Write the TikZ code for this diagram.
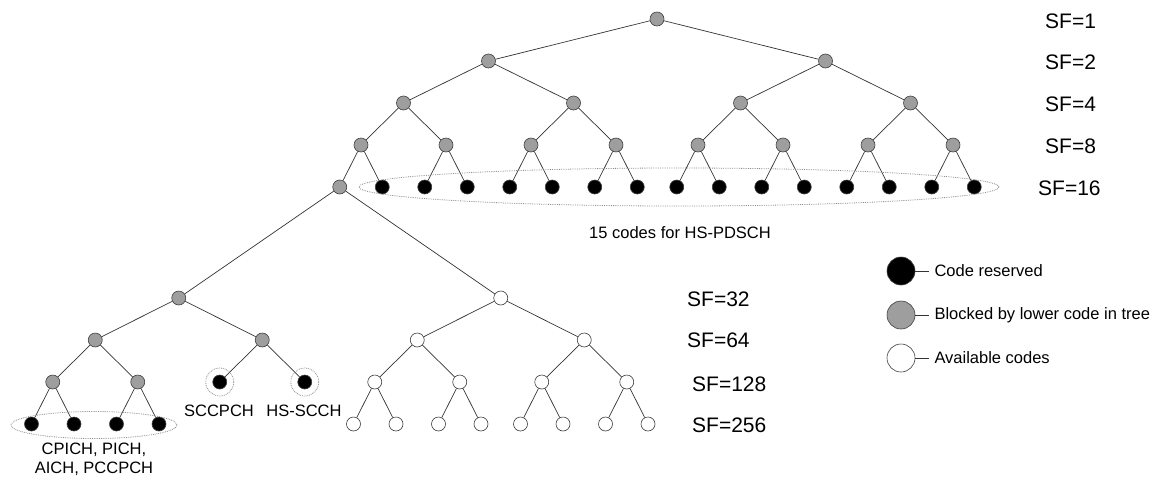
\documentclass[tikz,border=0pt]{standalone}
\usepackage{fontspec}
\setmainfont{Liberation Sans}
\usetikzlibrary{positioning}

\begin{document}
\begin{tikzpicture}[x = 1pt, y = -1pt, level distance = 42pt,
    level 1/.style = {sibling distance = 337pt},
    level 2/.style = {sibling distance = 170pt},
    level 3/.style = {sibling distance = 85pt},
    level 4/.style = {sibling distance = 42.5pt},
    level 5/.style = {level distance = 111pt, sibling distance = 322pt},
    level 6/.style = {level distance = 42pt, sibling distance = 167pt},
    level 7/.style = {sibling distance = 85pt},
    level 8/.style = {sibling distance = 42.5pt},
    edge from parent/.style = {draw, black!80, line width = 0.7pt},
    cnode/.style = {shape = circle, draw = black!75, line width = 0.6pt, minimum size = 14pt, inner sep = 0pt},
    reserved/.style = {cnode, fill = black},
    blocked/.style = {cnode, fill = black!38},
    free/.style = {cnode, fill = white},
    halo/.style = {draw = black!45, densely dotted, line width = 0.8pt},
    sflabel/.style = {anchor = west, inner sep = 0pt, font = \fontsize{21}{25}\selectfont},
    txt/.style = {inner sep = 0pt, font = \fontsize{16.5}{19}\selectfont},
    legtxt/.style = {inner sep = 5pt, font = \fontsize{16.5}{19}\selectfont}]
    \useasboundingbox (0,0) rectangle (1163,480);

    \node[blocked] (r) at (657,19) {}
        child{ node[blocked] {}
            child{ node[blocked] {}
                child{ node[blocked] {}
                    child{ node[blocked] {}
                        child{ node[blocked] {}
                            child{ node[blocked] {}
                                child{ node[blocked] {}
                                    child{ node[reserved] {} }
                                    child{ node[reserved] {} }}
                                child{ node[blocked] {}
                                    child{ node[reserved] {} }
                                    child{ node[reserved] {} }}}
                            child{ node[blocked] {}
                                child{ node[reserved] {} }
                                child{ node[reserved] {} }}}
                        child{ node[free] {}
                            child{ node[free] {}
                                child{ node[free] {}
                                    child{ node[free] {} }
                                    child{ node[free] {} }}
                                child{ node[free] {}
                                    child{ node[free] {} }
                                    child{ node[free] {} }}}
                            child{ node[free] {}
                                child{ node[free] {}
                                    child{ node[free] {} }
                                    child{ node[free] {} }}
                                child{ node[free] {}
                                    child{ node[free] {} }
                                    child{ node[free] {} }}}}}
                    child{ node[reserved] {} }}
                child{ node[blocked] {}
                    child{ node[reserved] {} }
                    child{ node[reserved] {} }}}
            child{ node[blocked] {}
                child{ node[blocked] {}
                    child{ node[reserved] {} }
                    child{ node[reserved] {} }}
                child{ node[blocked] {}
                    child{ node[reserved] {} }
                    child{ node[reserved] {} }}}}
        child{ node[blocked] {}
            child{ node[blocked] {}
                child{ node[blocked] {}
                    child{ node[reserved] {} }
                    child{ node[reserved] {} }}
                child{ node[blocked] {}
                    child{ node[reserved] {} }
                    child{ node[reserved] {} }}}
            child{ node[blocked] {}
                child{ node[blocked] {}
                    child{ node[reserved] {} }
                    child{ node[reserved] {} }}
                child{ node[blocked] {}
                    child{ node[reserved] {} }
                    child{ node[reserved] {} }}}};

    \draw[halo] (679,187) ellipse [x radius = 320pt, y radius = 19pt];
    \draw[halo] (94,425) ellipse [x radius = 83pt, y radius = 13.5pt];
    \draw[halo] (r-1-1-1-1-1-2-1) circle [radius = 14pt];
    \draw[halo] (r-1-1-1-1-1-2-2) circle [radius = 14pt];

    \node[txt] (hspdsch) at (680,233) {15 codes for HS-PDSCH};
    \node[txt] (sccpch) at (219,411) {SCCPCH};
    \node[txt] (hsscch) at (304,411) {HS-SCCH};
    \node[txt, align = center] (common) at (94,459) {CPICH, PICH,\\AICH, PCCPCH};

    \node[sflabel] (sf1) at (1045,21) {SF=1};
    \node[sflabel] (sf2) at (1045,62) {SF=2};
    \node[sflabel] (sf4) at (1045,104) {SF=4};
    \node[sflabel] (sf8) at (1045,146) {SF=8};
    \node[sflabel] (sf16) at (1038,188) {SF=16};
    \node[sflabel] (sf32) at (687,299) {SF=32};
    \node[sflabel] (sf64) at (687,340) {SF=64};
    \node[sflabel] (sf128) at (692,384) {SF=128};
    \node[sflabel] (sf256) at (692,425) {SF=256};

    \node[reserved, minimum size = 28pt] (lres) at (901,271) {};
    \node[blocked, minimum size = 28pt] (lblk) at (901,315) {};
    \node[free, minimum size = 28pt] (lfree) at (901,358) {};
    \node[legtxt, right = 14pt of lres] (lrestxt) {Code reserved};
    \node[legtxt, right = 14pt of lblk] (lblktxt) {Blocked by lower code in tree};
    \node[legtxt, right = 14pt of lfree] (lfreetxt) {Available codes};
    \draw[black!80, line width = 0.7pt] (lres) -- (lrestxt);
    \draw[black!80, line width = 0.7pt] (lblk) -- (lblktxt);
    \draw[black!80, line width = 0.7pt] (lfree) -- (lfreetxt);
\end{tikzpicture}
\end{document}
